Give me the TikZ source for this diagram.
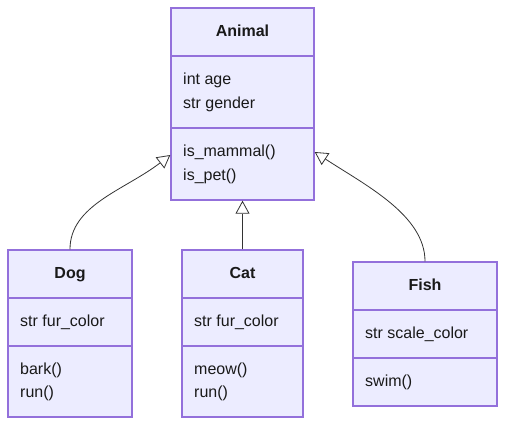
\documentclass[tikz,border=0pt]{standalone}
\usepackage{fontspec}
\setmainfont{Liberation Sans}
\usepackage{xcolor}
\definecolor{classFill}{HTML}{ECECFF}
\definecolor{classBorder}{HTML}{9370DB}
\definecolor{edgeGrey}{HTML}{333333}
\usetikzlibrary{arrows.meta,positioning}

\begin{document}
\begin{tikzpicture}[
  x=1pt, y=-1pt,
  font=\fontsize{16}{19}\selectfont,
  classbox/.style={draw=classBorder,fill=classFill,line width=1.4pt,inner sep=0pt},
  divider/.style={draw=classBorder,line width=1.4pt},
  title/.style={font=\fontsize{16}{19}\selectfont\bfseries,inner sep=0pt,text=black!90,
                text height=11.5pt,text depth=3.5pt},
  member/.style={anchor=west,inner sep=0pt,text=black!90},
  inherit/.style={-{Triangle[open,length=13pt,width=14pt,fill=white]},edgeGrey,line width=0.8pt}
]
\useasboundingbox (0,0) rectangle (505,426);

% Animal
\node[classbox, minimum width=143pt, minimum height=192pt] (animal) at (242.5,104) {};
\draw[divider] (171,56) -- (314,56);
\draw[divider] (171,128) -- (314,128);
\node[title] (animalName) at (242.5,32) {Animal};
\node[member] (animalAge) at (183,80) {int age};
\node[member] (animalGender) at (183,104) {str gender};
\node[member] (animalMammal) at (183,152) {is\_mammal()};
\node[member] (animalPet) at (183,176) {is\_pet()};

% Dog
\node[classbox, minimum width=124pt, minimum height=167pt] (dog) at (70,333.5) {};
\draw[divider] (8,298) -- (132,298);
\draw[divider] (8,346) -- (132,346);
\node[title] (dogName) at (70,274) {Dog};
\node[member] (dogFur) at (20,322) {str fur\_color};
\node[member] (dogBark) at (20,370) {bark()};
\node[member] (dogRun) at (20,393) {run()};

% Cat
\node[classbox, minimum width=121pt, minimum height=167pt] (cat) at (242.5,333.5) {};
\draw[divider] (182,298) -- (303,298);
\draw[divider] (182,346) -- (303,346);
\node[title] (catName) at (242.5,274) {Cat};
\node[member] (catFur) at (194,322) {str fur\_color};
\node[member] (catMeow) at (194,370) {meow()};
\node[member] (catRun) at (194,393) {run()};

% Fish
\node[classbox, minimum width=144pt, minimum height=144pt] (fish) at (425,334) {};
\draw[divider] (353,310) -- (497,310);
\draw[divider] (353,358) -- (497,358);
\node[title] (fishName) at (425,286) {Fish};
\node[member] (fishScale) at (365,334) {str scale\_color};
\node[member] (fishSwim) at (365,382) {swim()};

% inheritance
\draw[inherit] (dog.north) .. controls (70,205) and (125,190) .. ([yshift=-51pt]animal.west);
\draw[inherit] (cat.north) -- (animal.south);
\draw[inherit] (fish.north) .. controls (425,215) and (365,185) .. ([yshift=-48pt]animal.east);
\end{tikzpicture}
\end{document}
